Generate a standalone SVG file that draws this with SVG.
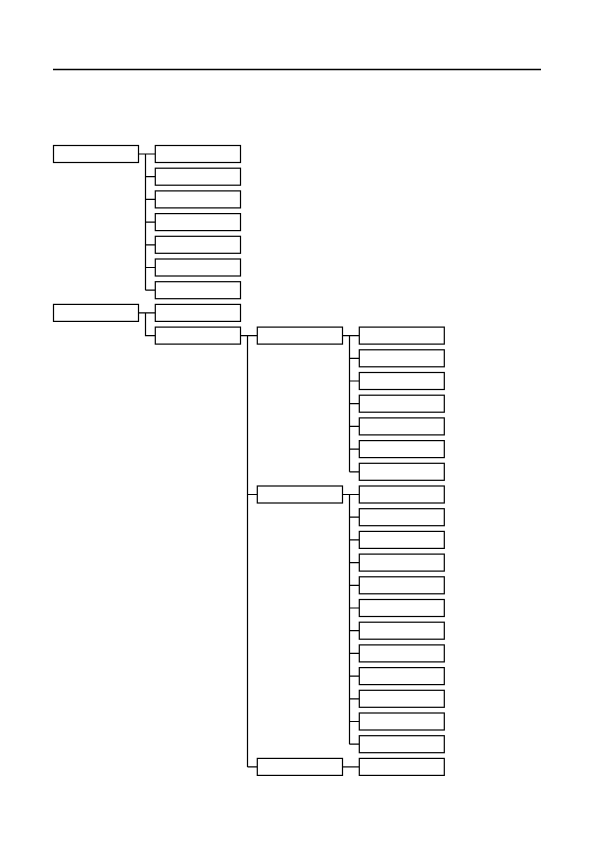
<svg xmlns="http://www.w3.org/2000/svg" width="595" height="843" viewBox="0 0 595 843">
<style>
.n{fill:#fff;stroke:#000;stroke-width:1.2}
.c{fill:none;stroke:#000;stroke-width:1.2}
</style>
<rect width="595" height="843" fill="#fff"/>
<line x1="53" y1="69.5" x2="541" y2="69.5" stroke="#000" stroke-width="1.3"/>
<g id="connectors" class="c">
<path d="M138.5 154H155.3M145.5 154V290.2M145.5 176.7H155.3M145.5 199.4H155.3M145.5 222.1H155.3M145.5 244.8H155.3M145.5 267.5H155.3M145.5 290.2H155.3"/>
<path d="M138.5 312.9H155.3M145.5 312.9V335.6H155.3"/>
<path d="M240.5 335.6H257.3M247.5 335.6V766.9M247.5 494.5H257.3M247.5 766.9H257.3"/>
<path d="M342.5 335.6H359.3M349.5 335.6V471.8M349.5 358.3H359.3M349.5 381H359.3M349.5 403.7H359.3M349.5 426.4H359.3M349.5 449.1H359.3M349.5 471.8H359.3"/>
<path d="M342.5 494.5H359.3M349.5 494.5V744.2M349.5 517.2H359.3M349.5 539.9H359.3M349.5 562.6H359.3M349.5 585.3H359.3M349.5 608H359.3M349.5 630.7H359.3M349.5 653.4H359.3M349.5 676.1H359.3M349.5 698.8H359.3M349.5 721.5H359.3M349.5 744.2H359.3"/>
<path d="M342.5 766.9H359.3"/>
</g>
<g id="a"><rect class="n" x="53.5" y="145.5" width="85" height="17"/></g>
<g id="a1"><rect class="n" x="155.3" y="145.5" width="85.2" height="17"/></g>
<g id="a2"><rect class="n" x="155.3" y="168.2" width="85.2" height="17"/></g>
<g id="a3"><rect class="n" x="155.3" y="190.9" width="85.2" height="17"/></g>
<g id="a4"><rect class="n" x="155.3" y="213.6" width="85.2" height="17"/></g>
<g id="a5"><rect class="n" x="155.3" y="236.3" width="85.2" height="17"/></g>
<g id="a6"><rect class="n" x="155.3" y="259" width="85.2" height="17"/></g>
<g id="a7"><rect class="n" x="155.3" y="281.7" width="85.2" height="17"/></g>
<g id="b"><rect class="n" x="53.5" y="304.4" width="85" height="17"/></g>
<g id="b1"><rect class="n" x="155.3" y="304.4" width="85.2" height="17"/></g>
<g id="b2"><rect class="n" x="155.3" y="327.1" width="85.2" height="17"/></g>
<g id="c1"><rect class="n" x="257.3" y="327.1" width="85.2" height="17"/></g>
<g id="c2"><rect class="n" x="257.3" y="486" width="85.2" height="17"/></g>
<g id="c3"><rect class="n" x="257.3" y="758.4" width="85.2" height="17"/></g>
<g id="d1"><rect class="n" x="359.3" y="327.1" width="85" height="17"/></g>
<g id="d2"><rect class="n" x="359.3" y="349.8" width="85" height="17"/></g>
<g id="d3"><rect class="n" x="359.3" y="372.5" width="85" height="17"/></g>
<g id="d4"><rect class="n" x="359.3" y="395.2" width="85" height="17"/></g>
<g id="d5"><rect class="n" x="359.3" y="417.9" width="85" height="17"/></g>
<g id="d6"><rect class="n" x="359.3" y="440.6" width="85" height="17"/></g>
<g id="d7"><rect class="n" x="359.3" y="463.3" width="85" height="17"/></g>
<g id="e1"><rect class="n" x="359.3" y="486" width="85" height="17"/></g>
<g id="e2"><rect class="n" x="359.3" y="508.7" width="85" height="17"/></g>
<g id="e3"><rect class="n" x="359.3" y="531.4" width="85" height="17"/></g>
<g id="e4"><rect class="n" x="359.3" y="554.1" width="85" height="17"/></g>
<g id="e5"><rect class="n" x="359.3" y="576.8" width="85" height="17"/></g>
<g id="e6"><rect class="n" x="359.3" y="599.5" width="85" height="17"/></g>
<g id="e7"><rect class="n" x="359.3" y="622.2" width="85" height="17"/></g>
<g id="e8"><rect class="n" x="359.3" y="644.9" width="85" height="17"/></g>
<g id="e9"><rect class="n" x="359.3" y="667.6" width="85" height="17"/></g>
<g id="e10"><rect class="n" x="359.3" y="690.3" width="85" height="17"/></g>
<g id="e11"><rect class="n" x="359.3" y="713" width="85" height="17"/></g>
<g id="e12"><rect class="n" x="359.3" y="735.7" width="85" height="17"/></g>
<g id="f1"><rect class="n" x="359.3" y="758.4" width="85" height="17"/></g>
</svg>
